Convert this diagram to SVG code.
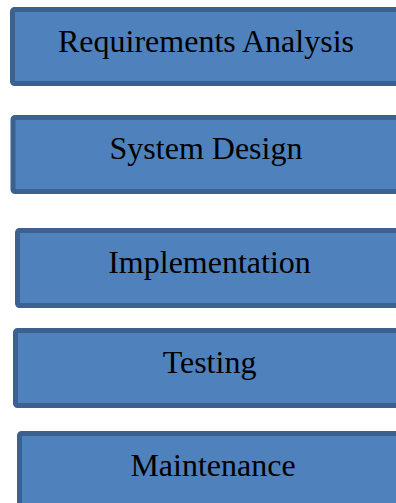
<svg xmlns="http://www.w3.org/2000/svg" width="396" height="503" viewBox="0 0 396 503">
  <style>
    .box { fill: #4f81bd; stroke: #3c6191; stroke-width: 5; }
    .label { font-family: "Liberation Serif", "Times New Roman", serif; font-size: 32px; fill: #000; text-anchor: middle; }
  </style>
  <rect width="396" height="503" fill="#ffffff"/>
  <g id="requirements">
    <rect class="box" x="12.5" y="9.5" width="400" height="74" rx="2"/>
    <text class="label" x="206" y="52">Requirements Analysis</text>
  </g>
  <g id="design">
    <rect class="box" x="13" y="117.5" width="400" height="74" rx="2"/>
    <text class="label" x="206" y="159">System Design</text>
  </g>
  <g id="implementation">
    <rect class="box" x="17.5" y="230.5" width="400" height="75" rx="2"/>
    <text class="label" x="209.5" y="273">Implementation</text>
  </g>
  <g id="testing">
    <rect class="box" x="15.5" y="330.5" width="400" height="75" rx="2"/>
    <text class="label" x="209.5" y="373">Testing</text>
  </g>
  <g id="maintenance">
    <rect class="box" x="19.5" y="433.5" width="400" height="100" rx="2"/>
    <text class="label" x="213" y="476">Maintenance</text>
  </g>
  <g id="connectors"/>
</svg>
